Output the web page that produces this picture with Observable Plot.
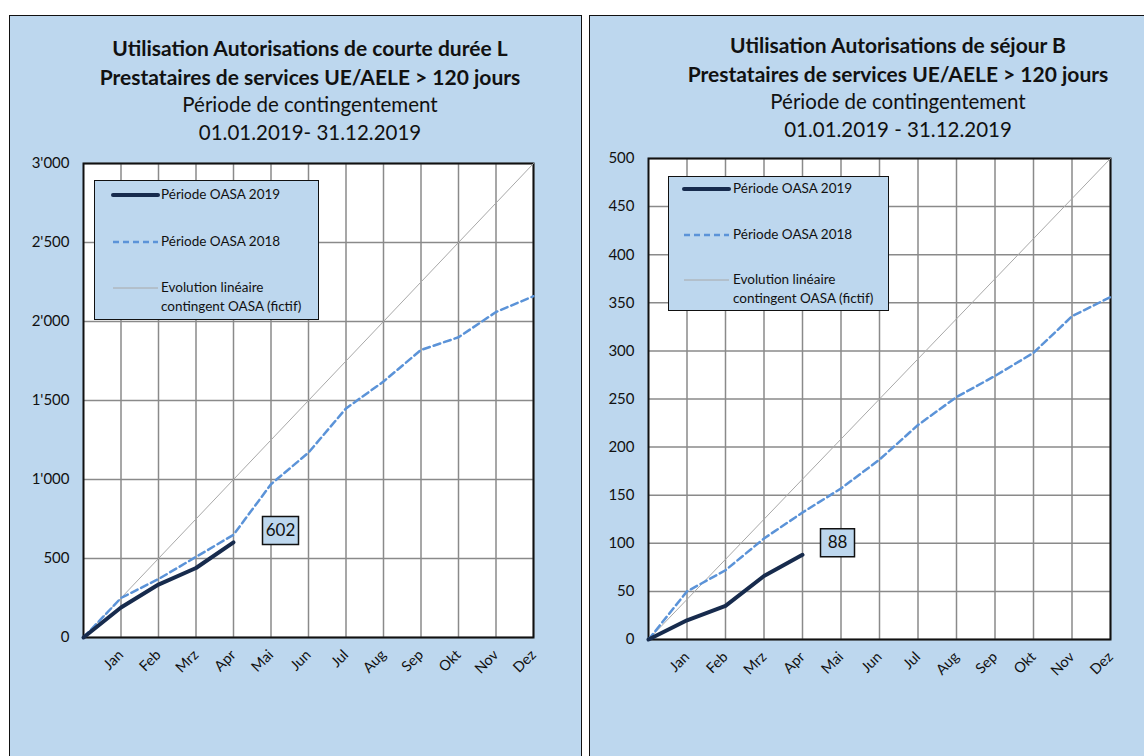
<!DOCTYPE html>
<html><head><meta charset="utf-8">
<script src="https://cdn.jsdelivr.net/npm/d3@7"></script>
<script src="https://cdn.jsdelivr.net/npm/@observablehq/plot@0.6"></script>
<style>
body{margin:0;background:#fff;width:1144px;height:756px;overflow:hidden;position:relative;font-family:Lato,"Liberation Sans",sans-serif;}
.panel{position:absolute;background:#BDD7EE;border:1.5px solid #111;box-sizing:border-box;}
.title{position:absolute;text-align:center;color:#111;white-space:nowrap;transform:translateX(-50%);}
.title .b{font-weight:bold;font-size:21px;line-height:28.5px;}
.title .r{font-size:20.5px;line-height:27.5px;}
.legend{position:absolute;background:#BDD7EE;border:1.5px solid #111;box-sizing:border-box;}
.legend .t{position:absolute;font-size:13.5px;color:#111;white-space:nowrap;line-height:19px;}
.legend svg{position:absolute;overflow:visible;}
.chart{position:absolute;}
.chart svg g[aria-label="y-axis tick label"] text{font-size:15px;fill:#111;}
.chart svg g[aria-label="x-axis tick label"] text{font-size:14.5px;fill:#111;}
</style></head>
<body>
<div class="panel" style="left:9px;top:15px;width:573px;height:760px"></div>
<div class="panel" style="left:589px;top:15px;width:570px;height:760px"></div>
<div class="title" style="left:310px;top:34px">
<div class="b">Utilisation Autorisations de courte durée L</div>
<div class="b">Prestataires de services UE/AELE &gt; 120 jours</div>
<div class="r">Période de contingentement</div>
<div class="r">01.01.2019- 31.12.2019</div>
</div>
<div class="title" style="left:898px;top:31px">
<div class="b">Utilisation Autorisations de séjour B</div>
<div class="b">Prestataires de services UE/AELE &gt; 120 jours</div>
<div class="r">Période de contingentement</div>
<div class="r">01.01.2019 - 31.12.2019</div>
</div>
<div id="c1" class="chart" style="left:30px;top:145px"></div>
<div id="c2" class="chart" style="left:600px;top:140px"></div>
<script>
const months = ["Jan","Feb","Mrz","Apr","Mai","Jun","Jul","Aug","Sep","Okt","Nov","Dez"];
const left2019 = [0, 190, 335, 440, 602];
const left2018 = [0, 250, 370, 510, 650, 970, 1170, 1450, 1620, 1820, 1900, 2060, 2160];
const leftLinear = [0, 3000];
const leftTicks = [0, 500, 1000, 1500, 2000, 2500, 3000];
const right2019 = [0, 20, 35, 66, 88];
const right2018 = [0, 50, 72, 105, 132, 157, 187, 223, 252, 274, 298, 336, 356];
const rightLinear = [0, 500];
const rightTicks = [0, 50, 100, 150, 200, 250, 300, 350, 400, 450, 500];
const legendLabels = ["Période OASA 2019", "Période OASA 2018", "Evolution linéaire", "contingent OASA (fictif)"];

const C2019 = "#172B4D", C2018 = "#5B93D8", CLIN = "#A8A8A8";
const fmt = d => d3.format(",")(d).replace(/,/g, "'");

function series(vals) { return vals.map((v, i) => ({x: i, y: v})); }
function labelBox(w, h) {
  return {draw(ctx) { ctx.rect(-w/2, -h/2, w, h); }};
}

function makeChart(cfg) {
  const last = cfg.s2019.length - 1;
  const lastPt = [{x: last, y: cfg.s2019[last], t: String(cfg.s2019[last])}];
  return Plot.plot({
    width: cfg.width, height: cfg.height,
    marginLeft: cfg.ml, marginRight: cfg.mr, marginTop: cfg.mt, marginBottom: cfg.mb,
    style: {background: "transparent", fontFamily: "Lato, 'Liberation Sans', sans-serif", fontSize: "15px", color: "#1a1a1a", overflow: "visible"},
    x: {type: "linear", domain: [0, 12]},
    y: {domain: [0, cfg.ymax]},
    marks: [
      Plot.frame({fill: "white", stroke: "none"}),
      Plot.gridX({ticks: d3.range(1, 13), stroke: "#8a8a8a", strokeOpacity: 1, strokeWidth: 1.5}),
      Plot.gridY({ticks: cfg.ticks, stroke: "#8a8a8a", strokeOpacity: 1, strokeWidth: 1.5}),
      Plot.frame({stroke: "#111", strokeWidth: 2}),
      Plot.axisY({ticks: cfg.ticks, tickFormat: fmt, tickSize: 0, tickPadding: 14, label: null}),
      Plot.axisX({ticks: d3.range(1, 13), tickFormat: i => months[i - 1], tickRotate: -45, tickSize: 0, tickPadding: 15, label: null}),
      Plot.line(cfg.linear.map((v, i) => ({x: i * 12, y: v})), {x: "x", y: "y", stroke: CLIN, strokeWidth: 1}),
      Plot.line(series(cfg.s2018), {x: "x", y: "y", stroke: C2018, strokeWidth: 2.5, strokeDasharray: "7,4"}),
      Plot.line(series(cfg.s2019), {x: "x", y: "y", stroke: C2019, strokeWidth: 4, strokeLinejoin: "round"}),
      Plot.dot(lastPt, {x: "x", y: "y", symbol: labelBox(cfg.bw, 28), r: 5, fill: "#BDD7EE", stroke: "#111", strokeWidth: 1.5, dx: cfg.dx, dy: cfg.dy}),
      Plot.text(lastPt, {x: "x", y: "y", text: "t", fontSize: 17, fill: "#111", dx: cfg.dx, dy: cfg.dy})
    ]
  });
}

document.getElementById("c1").append(makeChart({
  s2019: left2019, s2018: left2018, linear: leftLinear, ticks: leftTicks, ymax: 3000,
  width: 530, height: 560, ml: 53, mr: 27, mt: 18, mb: 68, dx: 47, dy: -12, bw: 36
}));
document.getElementById("c2").append(makeChart({
  s2019: right2019, s2018: right2018, linear: rightLinear, ticks: rightTicks, ymax: 500,
  width: 535, height: 560, ml: 48, mr: 25, mt: 18, mb: 61, dx: 35, dy: -12, bw: 34
}));

function legend(left, top, w, h, sx, sw, tx, ys) {
  const d = document.createElement("div");
  d.className = "legend";
  Object.assign(d.style, {left: left + "px", top: top + "px", width: w + "px", height: h + "px"});
  const styles = [
    {stroke: C2019, width: 4, dash: null},
    {stroke: C2018, width: 2.5, dash: "6,4"},
    {stroke: CLIN, width: 1, dash: null}
  ];
  styles.forEach((s, i) => {
    const svg = d3.create("svg").attr("width", sw).attr("height", 6)
      .style("left", sx + "px").style("top", (ys[i] - 3) + "px");
    svg.append("line").attr("x1", 0).attr("x2", sw).attr("y1", 3).attr("y2", 3)
      .attr("stroke", s.stroke).attr("stroke-width", s.width)
      .attr("stroke-dasharray", s.dash).attr("stroke-linecap", i === 0 ? "round" : "butt");
    d.append(svg.node());
  });
  legendLabels.forEach((t, i) => {
    const e = document.createElement("div");
    e.className = "t";
    e.textContent = t;
    Object.assign(e.style, {left: tx + "px", top: (ys[i] - 10) + "px"});
    d.append(e);
  });
  document.body.append(d);
}
legend(94, 180, 225, 140, 18, 45, 66, [14, 61, 107, 126]);
legend(668, 176, 221, 135, 15, 45, 64, [12, 58, 103, 122]);
</script>
</body></html>
